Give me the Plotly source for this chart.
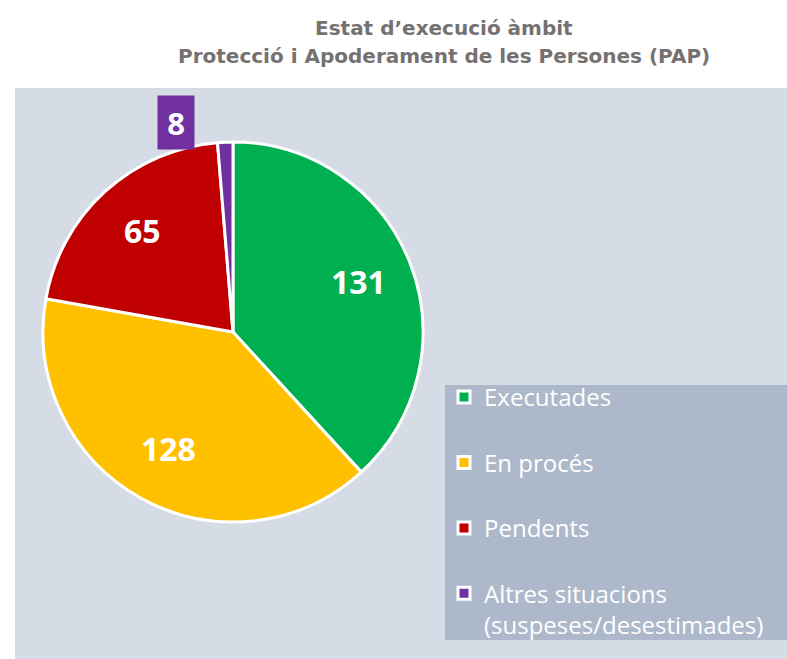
import math
import plotly.graph_objects as go

# ---- data ----
categories = ["Executades", "En procés", "Pendents", "Altres situacions<br>(suspeses/desestimades)"]
value_labels = ["131", "128", "65", "8"]
# slice shares (percent of the circle)
slice_shares = [38.2, 39.6, 20.9, 1.3]
colors = ["#00B050", "#FFC000", "#C00000", "#7030A0"]

title_lines = ["Estat d’execució àmbit", "Protecció i Apoderament de les Persones (PAP)"]

W, H = 787, 659
ML, MR, MT, MB = 15, 0, 88, 0
PW, PH = W - ML - MR, H - MT - MB

def px_x(x):  # figure pixel -> paper fraction
    return (x - ML) / PW

def px_y(y):
    return (H - MB - y) / PH

# pie placement (figure pixels)
CX, CY, R = 233, 332, 190
dom_x = [px_x(CX - R), px_x(CX + R)]
dom_y = [px_y(CY + R), px_y(CY - R)]

legend_labels = [c if "<br>" in c else c + "<br> " for c in categories]

fig = go.Figure()
fig.add_trace(go.Pie(
    labels=legend_labels,
    values=slice_shares,
    textinfo="none",
    sort=False,
    direction="clockwise",
    rotation=0,
    marker=dict(colors=colors, line=dict(color="white", width=3)),
    domain=dict(x=dom_x, y=dom_y),
    hoverinfo="skip",
))

# value labels placed along each slice's bisector
annotations = []
total = sum(slice_shares)
cum = 0.0
for i, (share, lab) in enumerate(zip(slice_shares, value_labels)):
    mid = (cum + share / 2) / total * 2 * math.pi
    cum += share
    if i < 3:
        r = 0.71 * R
        x = CX + r * math.sin(mid)
        y = CY - r * math.cos(mid) - 2
        annotations.append(dict(
            text="<b>" + lab + "</b>", xref="paper", yref="paper",
            x=px_x(x), y=px_y(y), xanchor="center", yanchor="middle", showarrow=False,
            font=dict(family="Open Sans", size=32, color="white"),
        ))
    else:
        # small slice: boxed label outside, above-left of the slice
        x = CX + 1.1 * R * math.sin(mid) - 48
        y = CY - 1.1 * R * math.cos(mid) - 1
        annotations.append(dict(
            text="<b>" + lab + "</b>", xref="paper", yref="paper",
            x=px_x(x), y=px_y(y), xanchor="center", yanchor="middle", showarrow=False,
            bgcolor=colors[i], width=34, height=51, borderpad=1,
            font=dict(family="Open Sans", size=31, color="white"),
        ))

# title lines
for txt, yy in zip(title_lines, [28, 56]):
    annotations.append(dict(
        text="<b>" + txt + "</b>", xref="paper", yref="paper",
        x=px_x(444), y=px_y(yy), xanchor="center", yanchor="middle", showarrow=False,
        font=dict(family="DejaVu Sans", size=20, color="#767171"),
    ))

fig.update_layout(
    width=W, height=H,
    margin=dict(l=ML, r=MR, t=MT, b=MB, autoexpand=False),
    paper_bgcolor="white",
    showlegend=True,
    legend=dict(
        x=px_x(444), xanchor="left",
        y=px_y(375), yanchor="top",
        bgcolor="rgba(0,0,0,0)",
        font=dict(family="Open Sans", size=24, color="white"),
        valign="top",
        itemclick=False, itemdoubleclick=False,
    ),
    shapes=[
        dict(type="rect", xref="paper", yref="paper", x0=0, x1=1, y0=0, y1=1,
             fillcolor="#D6DCE5", line=dict(width=0), layer="below"),
        dict(type="rect", xref="paper", yref="paper", x0=px_x(445), x1=1,
             y0=px_y(640), y1=px_y(385),
             fillcolor="#ADB9CA", line=dict(width=0), layer="below"),
    ],
    annotations=annotations,
)

fig.write_html(
    "out.html",
    config={"displayModeBar": False},
    post_script="document.body.style.margin='0';document.body.style.overflow='hidden';",
)
